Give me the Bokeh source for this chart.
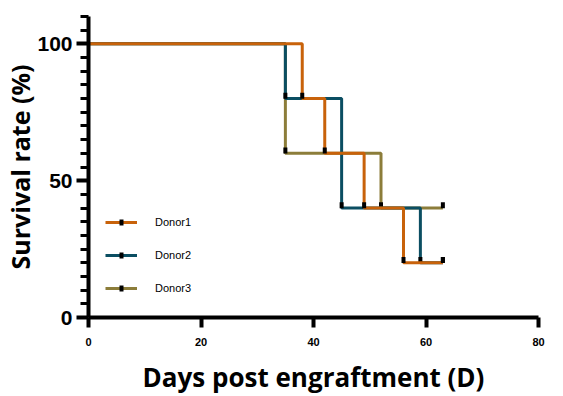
import numpy as np
from bokeh.plotting import figure
from bokeh.models import FixedTicker, Range1d, Legend, LegendItem
from bokeh.embed import file_html
from bokeh.resources import INLINE

# ---- data ----
series_names = ["Donor1", "Donor2", "Donor3"]
donor1_days = [38, 42, 49, 56]
donor1_surv = [80, 60, 40, 20]
donor2_days = [35, 45, 59]
donor2_surv = [80, 40, 20]
donor3_days = [35, 52]
donor3_surv = [60, 40]
end_day = 63
start_surv = 100
x_ticks = [0, 20, 40, 60, 80]
y_ticks = [0, 50, 100]
y_minor = [5, 10, 15, 20, 25, 30, 35, 40, 45, 55, 60, 65, 70, 75, 80, 85, 90, 95, 105, 110]

colors = {"Donor1": "#C8620A", "Donor2": "#0B4E62", "Donor3": "#8C7D3A"}
data = {
    "Donor1": (donor1_days, donor1_surv),
    "Donor2": (donor2_days, donor2_surv),
    "Donor3": (donor3_days, donor3_surv),
}

p = figure(frame_width=450, frame_height=301,
           min_border_left=80, min_border_right=24, min_border_top=16, min_border_bottom=70,
           output_backend="svg", toolbar_location=None,
           x_range=Range1d(0, 80), y_range=Range1d(0, 110))
p.outline_line_color = None
p.grid.visible = False
p.background_fill_color = "white"
p.border_fill_color = "white"

renderers = {}
for name in ["Donor3", "Donor2", "Donor1"]:
    days, surv = data[name]
    xs = [0] + days + [end_day]
    ys = [start_surv] + surv + [surv[-1]]
    ln = p.step(xs, ys, mode="after", line_color=colors[name], line_width=3)
    tx = days + [end_day]
    ty = [v + 1.0 for v in surv + [surv[-1]]]
    mk = p.scatter(tx, ty, marker="dash", size=4,
                   line_color="black", line_width=6, fill_color="black")
    renderers[name] = (ln, mk)

legend = Legend(items=[LegendItem(label=n, renderers=list(renderers[n])) for n in series_names],
                location=(17, 19), orientation="vertical",
                glyph_width=32, glyph_height=10, label_height=20, spacing=13,
                label_standoff=18, padding=0, margin=0,
                border_line_color=None, background_fill_alpha=0,
                label_text_font="Liberation Sans", label_text_font_size="11px",
                label_text_color="black")
p.add_layout(legend)

# x axis
xa = p.xaxis[0]
xa.ticker = FixedTicker(ticks=x_ticks, minor_ticks=[])
xa.axis_line_width = 4
xa.axis_line_color = "black"
xa.major_tick_line_width = 4
xa.major_tick_line_color = "black"
xa.major_tick_out = 10
xa.major_tick_in = 0
xa.minor_tick_out = 0
xa.major_label_standoff = 10
xa.major_label_text_font = "Liberation Sans"
xa.major_label_text_font_style = "bold"
xa.major_label_text_font_size = "11px"
xa.major_label_text_color = "black"
xa.axis_label = "Days post engraftment (D)"
xa.axis_label_text_font = "Open Sans"
xa.axis_label_text_font_style = "bold"
xa.axis_label_text_font_size = "26px"
xa.axis_label_text_color = "black"
xa.axis_label_standoff = 10

# y axis
ya = p.yaxis[0]
ya.ticker = FixedTicker(ticks=y_ticks, minor_ticks=y_minor)
ya.axis_line_width = 4
ya.axis_line_color = "black"
ya.major_tick_line_width = 4
ya.major_tick_line_color = "black"
ya.major_tick_out = 12
ya.major_tick_in = 0
ya.minor_tick_line_width = 3
ya.minor_tick_line_color = "black"
ya.minor_tick_out = 8
ya.minor_tick_in = 0
ya.major_label_standoff = 4
ya.major_label_text_font = "Liberation Sans"
ya.major_label_text_font_style = "bold"
ya.major_label_text_font_size = "21px"
ya.major_label_text_color = "black"
ya.axis_label = "Survival rate (%)"
ya.axis_label_text_font = "Open Sans"
ya.axis_label_text_font_style = "bold"
ya.axis_label_text_font_size = "25px"
ya.axis_label_text_color = "black"
ya.axis_label_standoff = -3

open("out.html", "w").write(file_html(p, INLINE))
